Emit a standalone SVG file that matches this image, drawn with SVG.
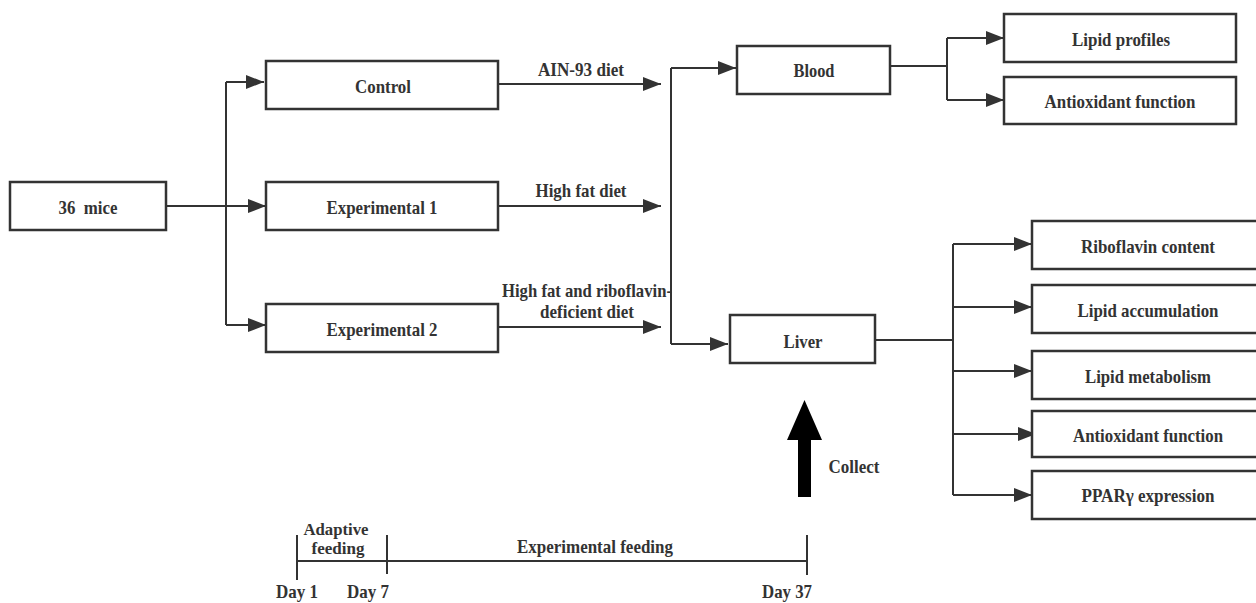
<svg xmlns="http://www.w3.org/2000/svg" width="1256" height="603" viewBox="0 0 1256 603">
<style>
.box{fill:#fff;stroke:#333;stroke-width:2.5}
.ln{fill:none;stroke:#333;stroke-width:2}
.ar{fill:none;stroke:#333;stroke-width:2;marker-end:url(#ah)}
text{font-family:"Liberation Serif","Times New Roman",serif;font-weight:bold;font-size:19px;fill:#333;text-anchor:middle}
.sm{font-size:17px}
</style>
<defs>
<marker id="ah" markerUnits="userSpaceOnUse" markerWidth="18" markerHeight="14" refX="18" refY="7" orient="auto">
<path d="M0,0 L18,7 L0,14 z" fill="#333"/>
</marker>
</defs>
<rect width="1256" height="603" fill="#fff"/>
<g id="connectors">
<path class="ar" d="M166,206 H266"/>
<path class="ln" d="M226,82 V325"/>
<path class="ar" d="M226,82 H264"/>
<path class="ar" d="M226,325 H266"/>
<path class="ar" d="M498,84 H661"/>
<path class="ar" d="M498,206 H661"/>
<path class="ar" d="M498,327 H661"/>
<path class="ln" d="M671,68 V344"/>
<path class="ar" d="M671,68 H736"/>
<path class="ar" d="M671,344 H728"/>
<path class="ln" d="M890,66 H947 M947,38 V100"/>
<path class="ar" d="M947,38 H1004"/>
<path class="ar" d="M947,100 H1004"/>
<path class="ln" d="M875,340 H953 M953,244 V495"/>
<path class="ar" d="M953,244 H1032"/>
<path class="ar" d="M953,307 H1032"/>
<path class="ar" d="M953,371 H1032"/>
<path class="ar" d="M953,434 H1036"/>
<path class="ar" d="M953,495 H1032"/>
<text x="581" y="76" textLength="86" lengthAdjust="spacingAndGlyphs">AIN-93 diet</text>
<text x="581" y="197" textLength="91" lengthAdjust="spacingAndGlyphs">High fat diet</text>
<text x="587" y="297" textLength="170" lengthAdjust="spacingAndGlyphs">High fat and riboflavin-</text>
<text x="587" y="318" textLength="94" lengthAdjust="spacingAndGlyphs">deficient diet</text>
</g>
<g id="mice"><rect class="box" x="10" y="182" width="156" height="48"/><text x="88" y="214" textLength="59" lengthAdjust="spacingAndGlyphs">36&#160; mice</text></g>
<g id="control"><rect class="box" x="266" y="61" width="232" height="48"/><text x="383" y="93" textLength="56" lengthAdjust="spacingAndGlyphs">Control</text></g>
<g id="exp1"><rect class="box" x="266" y="182" width="232" height="48"/><text x="382" y="214" textLength="111" lengthAdjust="spacingAndGlyphs">Experimental 1</text></g>
<g id="exp2"><rect class="box" x="266" y="304" width="232" height="48"/><text x="382" y="336" textLength="111" lengthAdjust="spacingAndGlyphs">Experimental 2</text></g>
<g id="blood"><rect class="box" x="737" y="46" width="153" height="48"/><text x="814" y="77" textLength="41" lengthAdjust="spacingAndGlyphs">Blood</text></g>
<g id="liver"><rect class="box" x="730" y="315" width="145" height="48"/><text x="803" y="348" textLength="39" lengthAdjust="spacingAndGlyphs">Liver</text></g>
<g id="lipidprofiles"><rect class="box" x="1004" y="14" width="232" height="48"/><text x="1121" y="46" textLength="98" lengthAdjust="spacingAndGlyphs">Lipid profiles</text></g>
<g id="antiox1"><rect class="box" x="1004" y="77" width="232" height="47"/><text x="1120" y="108" textLength="151" lengthAdjust="spacingAndGlyphs">Antioxidant function</text></g>
<g id="ribo"><rect class="box" x="1032" y="221" width="240" height="48"/><text x="1148" y="253" textLength="134" lengthAdjust="spacingAndGlyphs">Riboflavin content</text></g>
<g id="lipidacc"><rect class="box" x="1032" y="285" width="240" height="48"/><text x="1148" y="317" textLength="141" lengthAdjust="spacingAndGlyphs">Lipid accumulation</text></g>
<g id="lipidmet"><rect class="box" x="1032" y="351" width="240" height="48"/><text x="1148" y="383" textLength="126" lengthAdjust="spacingAndGlyphs">Lipid metabolism</text></g>
<g id="antiox2"><rect class="box" x="1032" y="411" width="240" height="46"/><text x="1148" y="442" textLength="150" lengthAdjust="spacingAndGlyphs">Antioxidant function</text></g>
<g id="ppar"><rect class="box" x="1032" y="471" width="240" height="48"/><text x="1148" y="502" textLength="133" lengthAdjust="spacingAndGlyphs">PPARγ expression</text></g>
<g id="collect">
<polygon points="798,497 798,440 787,440 804.5,400 822,440 811,440 811,497" fill="#000"/>
<text x="854" y="473" textLength="51" lengthAdjust="spacingAndGlyphs">Collect</text>
</g>
<g id="timeline">
<path class="ln" d="M297,561 H807 M297,535 V580 M387,535 V574 M807,535 V575"/>
<text class="sm" x="336" y="535" textLength="65" lengthAdjust="spacingAndGlyphs">Adaptive</text>
<text class="sm" x="338" y="554" textLength="53" lengthAdjust="spacingAndGlyphs">feeding</text>
<text x="595" y="553" textLength="156" lengthAdjust="spacingAndGlyphs">Experimental feeding</text>
<text x="297" y="598" textLength="42" lengthAdjust="spacingAndGlyphs">Day 1</text>
<text x="368" y="598" textLength="42" lengthAdjust="spacingAndGlyphs">Day 7</text>
<text x="787" y="598" textLength="50" lengthAdjust="spacingAndGlyphs">Day 37</text>
</g>
</svg>
